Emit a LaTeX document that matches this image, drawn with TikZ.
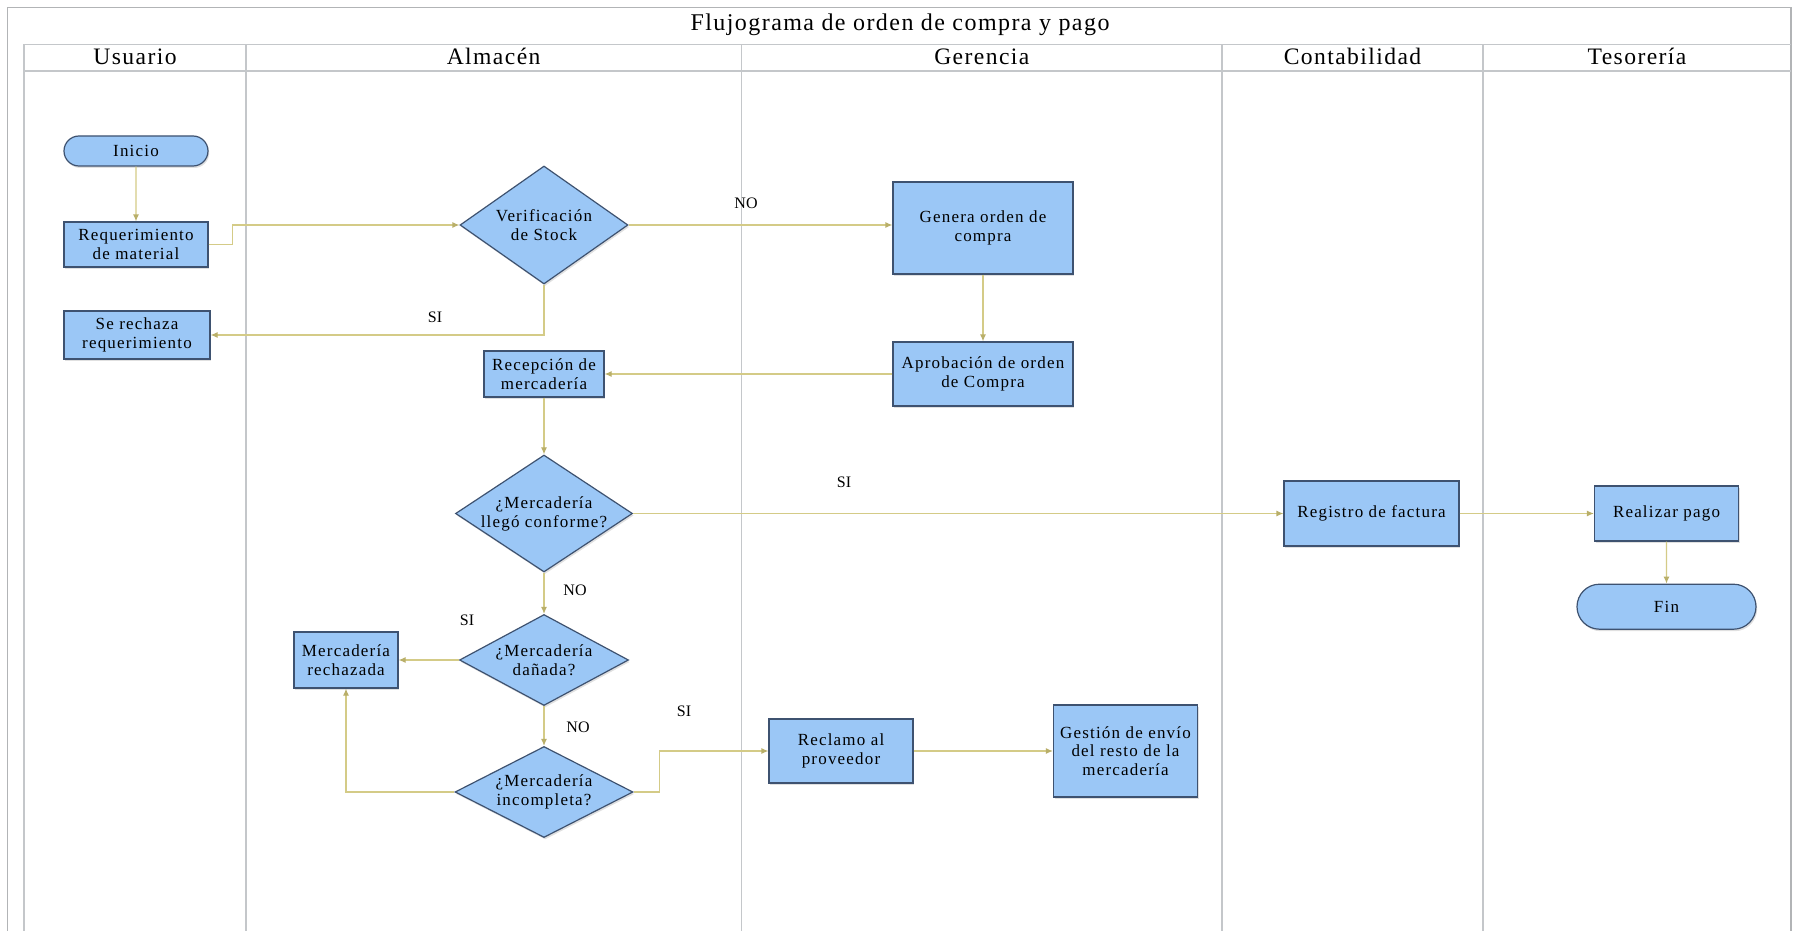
\documentclass[tikz,border=0pt]{standalone}
\usepackage{fontspec}
\setmainfont{Liberation Serif}
\newfontfamily\nf[LetterSpace=7]{Liberation Serif}
\newfontfamily\hf[LetterSpace=6]{Liberation Serif}
\usetikzlibrary{shapes.geometric,shapes.misc,arrows.meta,shadows}
\definecolor{nfill}{RGB}{155,199,246}
\definecolor{nborder}{RGB}{62,82,112}
\definecolor{conn}{RGB}{212,203,135}
\definecolor{tipc}{RGB}{185,175,105}
\definecolor{lane}{RGB}{196,199,202}
\definecolor{frame}{RGB}{178,180,182}
\tikzset{
  shad/.style={drop shadow={shadow xshift=0.6pt,shadow yshift=-1pt,opacity=0.12,fill=black}},
  proc/.style={rectangle, draw=nborder, fill=nfill, line width=0.6pt, inner sep=0pt, align=center,
    font=\nf\fontsize{8.5}{9.3}\selectfont, shad},
  term/.style={rounded rectangle, draw=nborder, fill=nfill, line width=0.6pt, inner sep=0pt, align=center,
    font=\nf\fontsize{8.5}{9.3}\selectfont, shad},
  dec/.style={diamond, draw=nborder, fill=nfill, line width=0.6pt, inner sep=0pt, shad},
  dtext/.style={font=\nf\fontsize{8.5}{9.5}\selectfont, align=center, inner sep=0pt},
  lbl/.style={font=\fontsize{8}{9.6}\selectfont, inner sep=0pt},
  hdr/.style={font=\hf\fontsize{11.8}{13}\selectfont, anchor=base, inner sep=0pt},
  ttl/.style={font=\hf\fontsize{12}{14}\selectfont, anchor=base, inner sep=0pt},
  conn/.style={draw=conn, line width=0.6pt, -{Latex[length=3.5pt,width=3pt,color=tipc]}},
  laneline/.style={draw=lane, line width=0.6pt},
  frameline/.style={draw=frame, line width=0.8pt}
}
\begin{document}
\begin{tikzpicture}[x=0.5pt,y=-0.5pt]
\useasboundingbox (0,0) rectangle (1800,931);
\fill[white] (0,0) rectangle (1800,931);
% frame
\draw[frameline] (7.5,931) -- (7.5,7.5) -- (1791,7.5) -- (1791,931);
\draw[laneline] (24,931) -- (24,44.5) -- (1791,44.5);
\draw[laneline] (24,71) -- (1791,71);
\draw[laneline] (246,44.5) -- (246,931);
\draw[laneline] (741.5,44.5) -- (741.5,931);
\draw[laneline] (1222,44.5) -- (1222,931);
\draw[laneline] (1483,44.5) -- (1483,931);
% titles
\node[ttl] (title) at (900,31) {Flujograma de orden de compra y pago};
\node[hdr] (h1) at (135,64.5) {Usuario};
\node[hdr] (h2) at (493.6,64.5) {Almacén};
\node[hdr] (h3) at (981.8,64.5) {Gerencia};
\node[hdr] (h4) at (1352.5,64.5) {Contabilidad};
\node[hdr] (h5) at (1637,64.5) {Tesorería};
% nodes
\node[term, minimum width=72pt, minimum height=15pt] (ini) at (136,151) {Inicio};
\node[proc, minimum width=72pt, minimum height=22.5pt] (req) at (136,244.5) {Requerimiento\\de material};
\node[proc, minimum width=73pt, minimum height=24pt] (rech) at (137,335) {Se rechaza\\requerimiento};
\node[dec, minimum width=84pt, minimum height=59pt, label={[dtext]center:{Verificación\\de Stock}}] (ver) at (544,225) {};
\node[proc, minimum width=90pt, minimum height=46pt] (gen) at (983,228) {Genera orden de\\compra};
\node[proc, minimum width=90pt, minimum height=32pt] (apr) at (983,374) {Aprobación de orden\\de Compra};
\node[proc, minimum width=60pt, minimum height=23pt] (rec) at (544,374) {Recepción de\\mercadería};
\node[dec, minimum width=88.5pt, minimum height=58.5pt, label={[dtext]center:{¿Mercadería\\llegó conforme?}}] (d2) at (544,513.5) {};
\node[dec, minimum width=84.5pt, minimum height=45.5pt, label={[dtext]center:{¿Mercadería\\dañada?}}] (d3) at (544,660) {};
\node[proc, minimum width=52pt, minimum height=28pt] (mrech) at (346,660) {Mercadería\\rechazada};
\node[dec, minimum width=89pt, minimum height=45.5pt, label={[dtext]center:{¿Mercadería\\incompleta?}}] (d4) at (544,792) {};
\node[proc, minimum width=72pt, minimum height=32pt] (recl) at (841,751) {Reclamo al\\proveedor};
\node[proc, minimum width=72pt, minimum height=46pt] (gest) at (1125.5,751) {Gestión de envío\\del resto de la\\mercadería};
\node[proc, minimum width=87.5pt, minimum height=32.5pt] (reg) at (1371.5,513.5) {Registro de factura};
\node[proc, minimum width=72pt, minimum height=27.5pt] (pago) at (1666.5,513.5) {Realizar pago};
\node[term, minimum width=89.5pt, minimum height=22.5pt] (fin) at (1666.5,606.7) {Fin};
% connectors
\draw[conn] (ini) -- (req);
\draw[conn] (req.east) -- ++(23.5,0) |- (ver.west);
\draw[conn] (ver.east) -- (ver.east -| gen.west);
\draw[conn] (ver.south) |- (rech.east);
\draw[conn] (gen) -- (apr);
\draw[conn] (apr.west) -- (rec.east);
\draw[conn] (rec) -- (d2);
\draw[conn] (d2.east) -- (reg.west);
\draw[conn] (reg.east) -- (pago.west);
\draw[conn] (pago) -- (fin);
\draw[conn] (d2.south) -- (d3.north);
\draw[conn] (d3.west) -- (mrech.east);
\draw[conn] (d3.south) -- (d4.north);
\draw[conn] (d4.west) -| (mrech.south);
\draw[conn] (d4.east) -- ++(25.5,0) |- (recl.west);
\draw[conn] (recl.east) -- (gest.west);
% labels
\node[lbl] (l1) at (746,203) {NO};
\node[lbl] (l2) at (435,317) {SI};
\node[lbl] (l3) at (844,482) {SI};
\node[lbl] (l4) at (575,590) {NO};
\node[lbl] (l5) at (467,620) {SI};
\node[lbl] (l6) at (578,727) {NO};
\node[lbl] (l7) at (684,711) {SI};
\end{tikzpicture}
\end{document}
